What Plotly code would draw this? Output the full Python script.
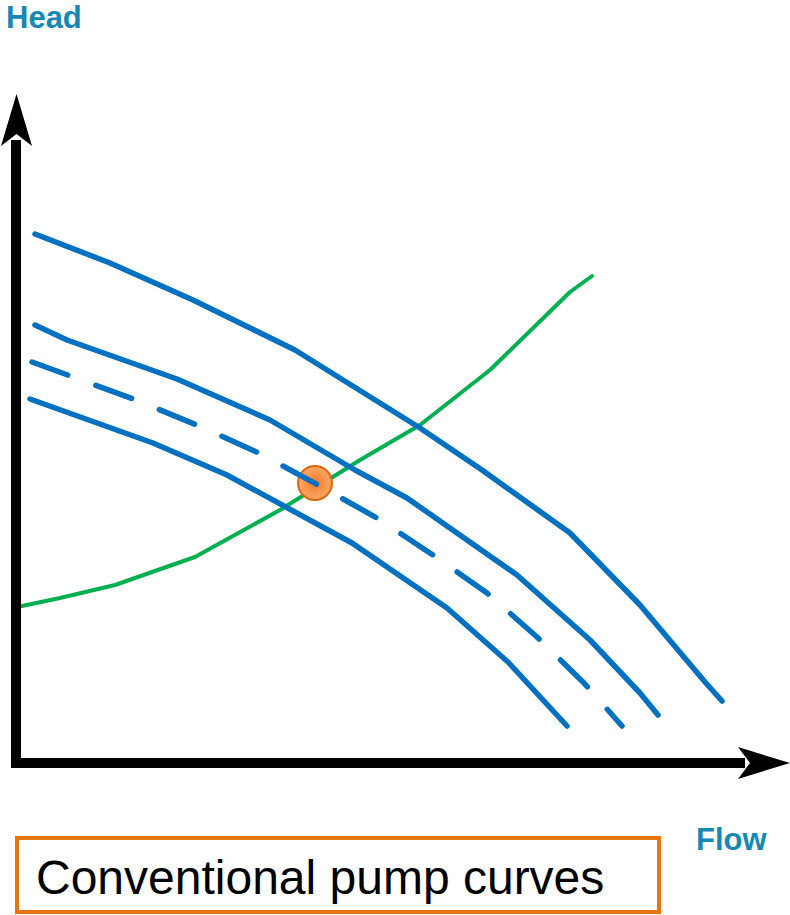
import plotly.graph_objects as go

# curve points (flow, head) in picture units
top_x = [35, 70, 110, 193, 295, 420, 482, 570, 640, 705, 722]
top_y = [234, 248, 263, 300, 350, 428, 470, 533, 605, 682, 701]

mid_x = [35, 67, 177, 270, 355, 407, 517, 590, 640, 658]
mid_y = [325, 340, 379, 420, 470, 498, 575, 640, 693, 715]

dash_x = [32, 73, 136, 199, 259, 318, 377, 433, 487, 537, 584, 622]
dash_y = [362, 377, 400, 426, 453, 485, 518, 555, 593, 637, 683, 726]

low_x = [30, 55, 153, 227, 300, 352, 447, 508, 567]
low_y = [399, 408, 443, 475, 515, 543, 608, 662, 726]

sys_x = [22, 60, 115, 195, 280, 360, 420, 490, 570, 592]
sys_y = [606, 598, 585, 557, 510, 460, 425, 370, 292, 276]

op_x = [315]
op_y = [483]

BLUE = "#0070C0"
GREEN = "#00B050"
TEAL = "#1589B3"
ORANGE = "#E8760F"

fig = go.Figure()

fig.add_trace(go.Scatter(x=sys_x, y=sys_y, mode="lines",
                         line=dict(color=GREEN, width=4)))
fig.add_trace(go.Scatter(x=op_x, y=op_y, mode="markers",
                         marker=dict(size=34, color="#FFA868",
                                     gradient=dict(type="radial", color="#F07A25"),
                                     line=dict(color="#E0660C", width=2))))
for xs, ys in [(top_x, top_y), (mid_x, mid_y), (low_x, low_y)]:
    fig.add_trace(go.Scatter(x=xs, y=ys, mode="lines",
                             line=dict(color=BLUE, width=5.5)))
fig.add_trace(go.Scatter(x=dash_x, y=dash_y, mode="lines",
                         line=dict(color=BLUE, width=5.5, dash="38px,30px")))

shapes = [
    # axes
    dict(type="line", x0=16, x1=16, y0=140, y1=767, line=dict(color="black", width=10)),
    dict(type="line", x0=11, x1=745, y0=763, y1=763, line=dict(color="black", width=10)),
    dict(type="path", path="M 16.5,94 L 32,146 L 16.5,134 L 1,146 Z",
         fillcolor="black", line=dict(width=0)),
    dict(type="path", path="M 790,763 L 738,747 L 750,763 L 738,779 Z",
         fillcolor="black", line=dict(width=0)),
    # caption box
    dict(type="rect", x0=17, x1=659, y0=838, y1=912,
         line=dict(color=ORANGE, width=4), fillcolor="white"),
]

annotations = [
    dict(x=4, y=17, text="<b>Head</b>", showarrow=False, xanchor="left",
         font=dict(family="Liberation Sans, Arial", size=31, color=TEAL)),
    dict(x=694, y=839, text="<b>Flow</b>", showarrow=False, xanchor="left",
         font=dict(family="Liberation Sans, Arial", size=31, color=TEAL)),
    dict(x=34, y=877, text="Conventional pump curves", showarrow=False, xanchor="left",
         font=dict(family="Liberation Sans, Arial", size=48, color="black")),
]

fig.update_layout(
    width=790, height=915,
    margin=dict(l=0, r=0, t=0, b=0),
    plot_bgcolor="white", paper_bgcolor="white",
    showlegend=False,
    xaxis=dict(range=[0, 790], visible=False, fixedrange=True),
    yaxis=dict(range=[915, 0], visible=False, fixedrange=True),
    shapes=shapes, annotations=annotations,
)

# no body margin, rounded line ends like the hand-drawn original
js = """
document.body.style.margin = '0';
function roundCaps() {
  document.querySelectorAll('path.js-line').forEach(function (p) {
    p.style.strokeLinecap = 'round';
    p.style.strokeLinejoin = 'round';
  });
}
roundCaps();
setTimeout(roundCaps, 0);
"""
fig.write_html("out.html", post_script=js, config={"displayModeBar": False})
